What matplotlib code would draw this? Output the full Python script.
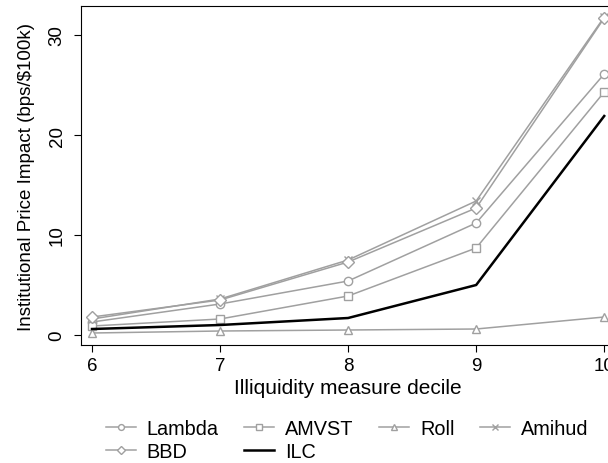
import numpy as np
import matplotlib.pyplot as plt
from matplotlib.lines import Line2D

plt.rcParams['font.family'] = ['Liberation Sans', 'DejaVu Sans']

deciles = [6, 7, 8, 9, 10]
lam = [1.3, 3.1, 5.4, 11.2, 26.1]
amvst = [0.9, 1.6, 3.9, 8.7, 24.3]
roll = [0.2, 0.4, 0.5, 0.6, 1.8]
amihud = [1.6, 3.6, 7.5, 13.4, 31.8]
bbd = [1.8, 3.5, 7.3, 12.7, 31.7]
ilc = [0.6, 1.0, 1.7, 5.0, 21.9]

gray = '#a0a0a0'

def main():
	fig = plt.figure(figsize=(6.08, 4.64), dpi=100)
	ax = fig.add_axes([0.1332, 0.2543, 0.877, 0.7306])

	kw = dict(color=gray, lw=1.1, mfc='white', mec=gray, mew=1.0, ms=6)
	h_lam, = ax.plot(deciles, lam, marker='o', label='Lambda', **kw)
	h_amv, = ax.plot(deciles, amvst, marker='s', label='AMVST', **kw)
	h_roll, = ax.plot(deciles, roll, marker='^', label='Roll', **kw)
	h_ami, = ax.plot(deciles, amihud, marker='x', label='Amihud', **kw)
	h_bbd, = ax.plot(deciles, bbd, marker='D', label='BBD', **kw)
	h_ilc, = ax.plot(deciles, ilc, color='black', lw=1.8, label='ILC')

	ax.set_xlim(5.914, 10.078)
	ax.set_ylim(-1.0, 32.9)
	ax.set_xticks([6, 7, 8, 9, 10])
	ax.set_yticks([0, 10, 20, 30])
	ax.tick_params(direction='out', length=5, labelsize=13.5)
	ax.tick_params(axis='y', pad=6)
	for t in ax.get_yticklabels():
		t.set_rotation(90)
		t.set_va('center')
	ax.spines['right'].set_visible(False)
	ax.set_xlabel('Illiquidity measure decile', fontsize=15, labelpad=3)
	ax.set_ylabel('Institutional Price Impact (bps/\\$100k)', fontsize=13.5, labelpad=10)

	handles = [h_lam, h_bbd, h_amv, h_ilc, h_roll, h_ami]
	fig.legend(handles=handles, labels=[h.get_label() for h in handles],
		ncol=4, loc='center left', bbox_to_anchor=(0.174, 0.05),
		frameon=False, fontsize=14.3, handlelength=1.5, columnspacing=1.3,
		handletextpad=0.55, labelspacing=0.22, borderaxespad=0,
		borderpad=0, markerscale=0.7)

	fig.savefig('out.png', dpi=100)

if __name__ == '__main__':
	main()
